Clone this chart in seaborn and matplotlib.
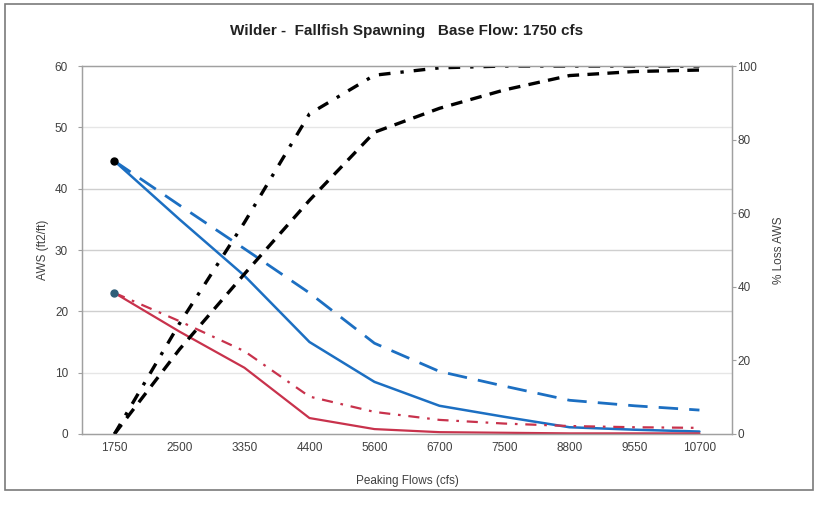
import matplotlib
matplotlib.use("Agg")
import matplotlib.pyplot as plt
import numpy as np
import pandas as pd
import seaborn as sns
from matplotlib.patches import Rectangle

# peaking flows (cfs), plotted as equally spaced categories
flows = ["1750", "2500", "3350", "4400", "5600", "6700", "7500", "8800", "9550", "10700"]

# AWS (ft2/ft), left axis
aws_blue_solid = [44.5, 35.0, 25.8, 15.0, 8.5, 4.6, 2.8, 1.1, 0.7, 0.4]
aws_blue_dash = [44.5, 37.3, 30.2, 23.0, 14.8, 10.2, 7.8, 5.5, 4.6, 3.9]
aws_red_solid = [23.0, 16.7, 10.8, 2.6, 0.8, 0.3, 0.2, 0.1, 0.1, 0.1]
aws_red_dashdot = [23.0, 18.4, 13.5, 6.1, 3.6, 2.3, 1.7, 1.3, 1.1, 1.0]

# % loss AWS, right axis
loss_dashdot = [0.0, 30.0, 57.5, 87.0, 97.5, 99.5, 100.0, 100.0, 100.0, 100.0]
loss_dash = [0.0, 23.0, 43.5, 63.5, 82.0, 88.5, 93.5, 97.4, 98.5, 98.9]

df = pd.DataFrame({
    "pos": range(len(flows)),
    "blue_solid": aws_blue_solid,
    "blue_dash": aws_blue_dash,
    "red_solid": aws_red_solid,
    "red_dashdot": aws_red_dashdot,
    "loss_dashdot": loss_dashdot,
    "loss_dash": loss_dash,
})

sns.set_theme(style="white")
plt.rcParams["font.family"] = ["Liberation Sans", "DejaVu Sans"]

blue = "#1c6fc2"
red = "#c8324c"
grey_txt = "#404040"

fig = plt.figure(figsize=(8.18, 5.05), dpi=100)
ax1 = fig.add_axes([0.1002, 0.1406, 0.7946, 0.7287])
ax2 = ax1.twinx()

sns.lineplot(data=df, x="pos", y="blue_solid", ax=ax1, color=blue, lw=1.8)
sns.lineplot(data=df, x="pos", y="blue_dash", ax=ax1, color=blue, lw=2.0,
             dashes=False).lines[-1].set_dashes([7, 4])
sns.lineplot(data=df, x="pos", y="red_solid", ax=ax1, color=red, lw=1.6)
sns.lineplot(data=df, x="pos", y="red_dashdot", ax=ax1, color=red, lw=1.6,
             dashes=False).lines[-1].set_dashes([5, 3.5, 1.2, 3.5])

# start markers
ax1.plot(df["pos"].iloc[0], aws_blue_solid[0], "o", color="black", ms=5, zorder=5)
ax1.plot(df["pos"].iloc[0], aws_red_solid[0], "o", color="#2f5e78", ms=5, zorder=5)

sns.lineplot(data=df, x="pos", y="loss_dashdot", ax=ax2, color="black", lw=2.4,
             dashes=False).lines[-1].set_dashes([3.5, 3, 1, 3])
sns.lineplot(data=df, x="pos", y="loss_dash", ax=ax2, color="black", lw=2.4,
             dashes=False).lines[-1].set_dashes([3.5, 2.5])

ax1.set_xlim(-0.5, len(flows) - 0.5)
ax1.set_ylim(0, 60)
ax2.set_ylim(0, 100)
ax1.set_yticks(np.arange(0, 61, 10))
ax2.set_yticks(np.arange(0, 101, 20))
ax1.set_xticks(df["pos"])
ax1.set_xticklabels(flows)

for y in range(10, 60, 10):
    c = "#cfcfcf" if y in (20, 30, 40) else "#e6e6e6"
    ax1.axhline(y, color=c, lw=1.0, zorder=0)

ax1.set_xlabel("Peaking Flows (cfs)", fontsize=8.5, color=grey_txt, labelpad=15)
ax1.set_ylabel("AWS (ft2/ft)", fontsize=8.5, color=grey_txt, labelpad=4)
ax2.set_ylabel("% Loss AWS", fontsize=8.5, color=grey_txt, labelpad=11)
ax1.set_title("Wilder -  Fallfish Spawning   Base Flow: 1750 cfs",
              fontsize=11, fontweight="bold", color="#222222", pad=22)

for ax in (ax1, ax2):
    ax.tick_params(axis="both", labelsize=8.5, labelcolor=grey_txt, length=3,
                   color="#a0a0a0", width=0.8)
    for s in ax.spines.values():
        s.set_color("#a0a0a0")
        s.set_linewidth(0.9)
ax1.tick_params(axis="y", left=True, pad=7)
ax1.tick_params(axis="x", bottom=False, pad=3)
ax2.tick_params(axis="y", right=True, pad=1)

fig.patches.append(Rectangle((0.006, 0.03), 0.988, 0.962, transform=fig.transFigure,
                             fill=False, edgecolor="#7a7a7a", lw=1.2))

fig.savefig("out.png", dpi=100)
